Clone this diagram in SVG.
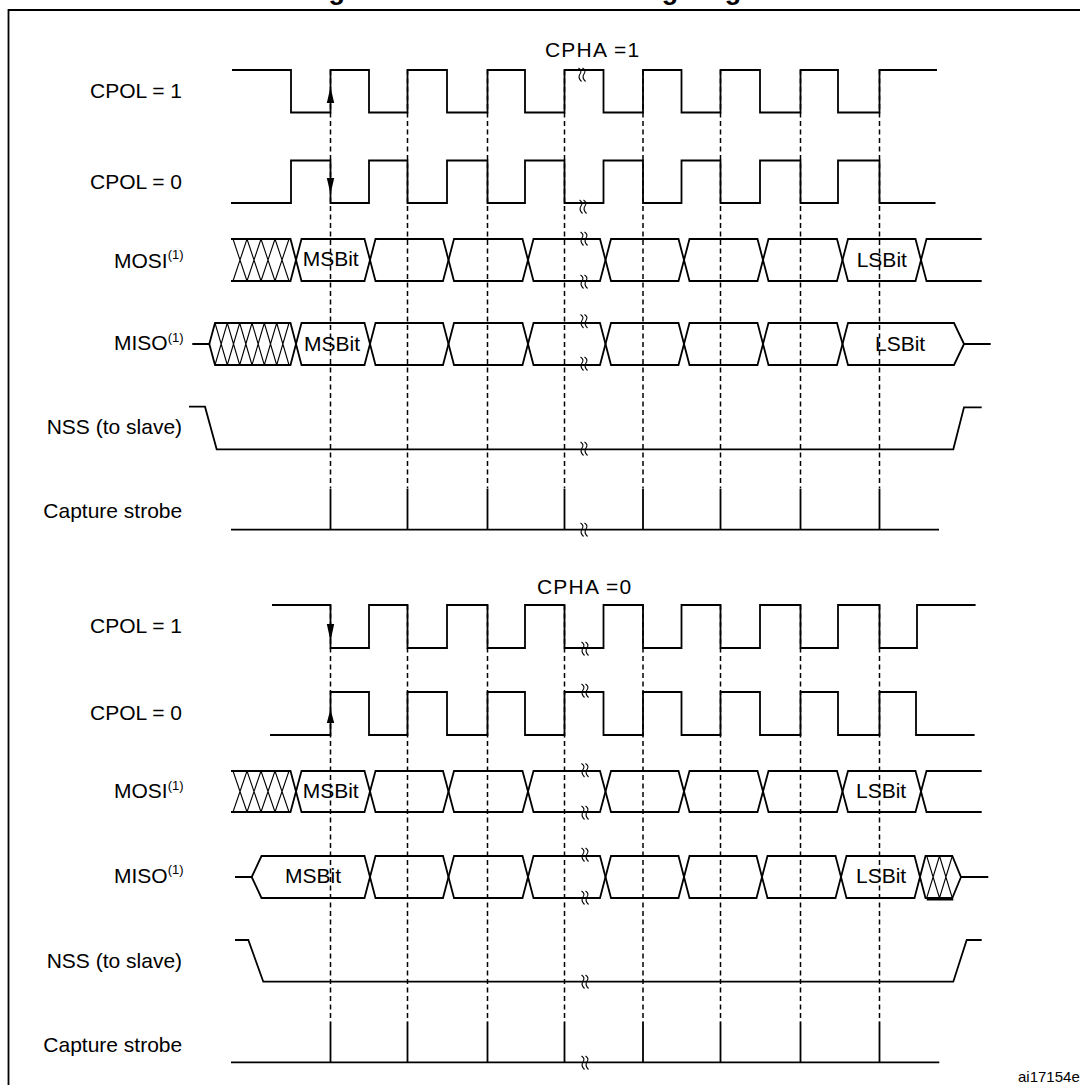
<svg xmlns="http://www.w3.org/2000/svg" xmlns:xlink="http://www.w3.org/1999/xlink" width="1080" height="1085" viewBox="0 0 1080 1085">
<style>
.w{fill:none;stroke:#000;stroke-width:1.8;stroke-linejoin:miter}
.h{fill:none;stroke:#000;stroke-width:1.1}
.d{fill:none;stroke:#000;stroke-width:1.5;stroke-dasharray:5,3.5}
.brk{fill:none;stroke:#000;stroke-width:1.1}
.lbl{font-family:"Liberation Sans",Arial,Helvetica,sans-serif;font-size:21px;fill:#000}
.ttl{font-family:"Liberation Sans",Arial,Helvetica,sans-serif;font-size:27px;font-weight:bold;fill:#000}
.cp{font-family:"Liberation Sans",Arial,Helvetica,sans-serif;font-size:21px;letter-spacing:1.2px;fill:#000}
.arr{fill:#000;stroke:none}
</style>
<defs>
<path id="brk" class="brk" d="M-4.5,-7 q4,2.5 1.5,6 q-2.5,3.5 1.5,7.5 M-0.5,-7 q4,2.5 1.5,6 q-2.5,3.5 1.5,7.5"/>
</defs>
<rect width="1080" height="1085" fill="#fff"/>
<text class="ttl" x="304.6" y="-1.5">Figure 239. Data clock timing diagram</text>
<path class="w" d="M8.5,1085 V10 H1080" stroke-width="2"/>

<g id="connectors">
<path class="d" d="M330.5,70 V488 M407.5,70 V488 M487.5,70 V488 M564.5,70 V488 M643,70 V488 M720.5,70 V488 M800.5,70 V488 M879.5,70 V488"/>
<path class="d" d="M330.5,605 V1022 M407.5,605 V1022 M487.5,605 V1022 M564.5,605 V1022 M643,605 V1022 M720.5,605 V1022 M800.5,605 V1022 M879.5,605 V1022"/>
</g>

<g id="cpha1">
<text class="cp" x="545" y="57">CPHA =1</text>
<g id="t_cpol1">
<text class="lbl" x="90" y="98">CPOL = 1</text>
<path class="w" d="M232,70 H291 V112.5 H330.5 V70 H369 V112.5 H407.5 V70 H447 V112.5 H487.5 V70 H525 V112.5 H564.5 V70 H603.5 V112.5 H643 V70 H681.5 V112.5 H720.5 V70 H760 V112.5 H800.5 V70 H838 V112.5 H879.5 V70 H937"/>
<polygon class="arr" points="330.5,87 326.8,103 334.2,103"/>
<use xlink:href="#brk" x="583" y="75"/>
</g>
<g id="t_cpol0">
<text class="lbl" x="90" y="188.7">CPOL = 0</text>
<path class="w" d="M231,203 H291 V160.5 H330.5 V203 H369 V160.5 H407.5 V203 H447 V160.5 H487.5 V203 H525 V160.5 H564.5 V203 H603.5 V160.5 H643 V203 H681.5 V160.5 H720.5 V203 H760 V160.5 H800.5 V203 H838 V160.5 H879.5 V203 H935.5"/>
<polygon class="arr" points="330.5,194 326.8,178 334.2,178"/>
<use xlink:href="#brk" x="584" y="207"/>
</g>
<g id="t_mosi">
<text class="lbl" x="114" y="267.7">MOSI<tspan font-size="13" dy="-8.5">(1)</tspan></text>
<path class="w" d="M231,239 H290.5 L301.5,281 H364.5 L375.5,239 H443 L454,281 H522.5 L533.5,239 H600 L611,281 H678.5 L689.5,239 H757.5 L768.5,281 H837 L848,239 H915.5 L926.5,281 H981.7"/>
<path class="w" d="M231,281 H290.5 L301.5,239 H364.5 L375.5,281 H443 L454,239 H522.5 L533.5,281 H600 L611,239 H678.5 L689.5,281 H757.5 L768.5,239 H837 L848,281 H915.5 L926.5,239 H981.7"/>
<path class="h" d="M233,239 L247,281 M247,239 L233,281 M247,239 L261,281 M261,239 L247,281 M261,239 L275,281 M275,239 L261,281 M275,239 L289,281 M289,239 L275,281"/>
<text class="lbl" x="302.7" y="265.7">MSBit</text>
<text class="lbl" x="856.7" y="266.7">LSBit</text>
<use xlink:href="#brk" x="585" y="239"/>
<use xlink:href="#brk" x="585" y="282"/>
</g>
<g id="t_miso">
<text class="lbl" x="114" y="350">MISO<tspan font-size="13" dy="-8.5">(1)</tspan></text>
<path class="w" d="M209.3,344 L215,323 H290.5 L301.5,365 H364.5 L375.5,323 H443 L454,365 H522.5 L533.5,323 H600 L611,365 H678.5 L689.5,323 H757.5 L768.5,365 H837 L848,323 H954 L964,344"/>
<path class="w" d="M192.3,344 H209.3 L215,365 H290.5 L301.5,323 H364.5 L375.5,365 H443 L454,323 H522.5 L533.5,365 H600 L611,323 H678.5 L689.5,365 H757.5 L768.5,323 H837 L848,365 H954 L964,344 H990.7"/>
<path class="h" d="M215,323 L227.3,365 M227.3,323 L215,365 M227.3,323 L239.7,365 M239.7,323 L227.3,365 M239.7,323 L252,365 M252,323 L239.7,365 M252,323 L264.3,365 M264.3,323 L252,365 M264.3,323 L276.7,365 M276.7,323 L264.3,365 M276.7,323 L289,365 M289,323 L276.7,365"/>
<text class="lbl" x="304" y="350.7">MSBit</text>
<text class="lbl" x="875" y="350.7">LSBit</text>
<use xlink:href="#brk" x="585" y="321.5"/>
<use xlink:href="#brk" x="585" y="364"/>
</g>
<g id="t_nss">
<text class="lbl" x="46.7" y="434.3">NSS (to slave)</text>
<path class="w" d="M189,406.7 H205 L216.7,449.3 H953.3 L964,407.3 H981.7"/>
<use xlink:href="#brk" x="585" y="449"/>
</g>
<g id="t_strobe">
<text class="lbl" x="43.3" y="517.7">Capture strobe</text>
<path class="w" d="M231,529.7 H939 M330.5,488.5 V529.7 M407.5,488.5 V529.7 M487.5,488.5 V529.7 M564.5,488.5 V529.7 M643,488.5 V529.7 M720.5,488.5 V529.7 M800.5,488.5 V529.7 M879.5,488.5 V529.7"/>
<use xlink:href="#brk" x="585" y="530"/>
</g>
</g>

<g id="cpha0">
<text class="cp" x="537" y="594.4">CPHA =0</text>
<g id="b_cpol1">
<text class="lbl" x="90" y="633.3">CPOL = 1</text>
<path class="w" d="M272,605 H330.5 V648 H369 V605 H407.5 V648 H447 V605 H487.5 V648 H525 V605 H564.5 V648 H603.5 V605 H643 V648 H681.5 V605 H720.5 V648 H760 V605 H800.5 V648 H838 V605 H879.5 V648 H917 V605 H975.6"/>
<polygon class="arr" points="330.5,641 326.8,624 334.2,624"/>
<use xlink:href="#brk" x="586" y="649"/>
</g>
<g id="b_cpol0">
<text class="lbl" x="90" y="720">CPOL = 0</text>
<path class="w" d="M270,735 H330.5 V692 H369 V735 H407.5 V692 H447 V735 H487.5 V692 H525 V735 H564.5 V692 H603.5 V735 H643 V692 H681.5 V735 H720.5 V692 H760 V735 H800.5 V692 H838 V735 H879.5 V692 H916 V735 H974.6"/>
<polygon class="arr" points="330.5,709 326.8,723 334.2,723"/>
<use xlink:href="#brk" x="586" y="691"/>
</g>
<g id="b_mosi">
<text class="lbl" x="114" y="798.3">MOSI<tspan font-size="13" dy="-8.5">(1)</tspan></text>
<path class="w" d="M231,771 H290.5 L301.5,812 H364.5 L375.5,771 H443 L454,812 H522.5 L533.5,771 H600 L611,812 H678.5 L689.5,771 H757.5 L768.5,812 H837 L848,771 H915.5 L926.5,812 H981.7"/>
<path class="w" d="M231,812 H290.5 L301.5,771 H364.5 L375.5,812 H443 L454,771 H522.5 L533.5,812 H600 L611,771 H678.5 L689.5,812 H757.5 L768.5,771 H837 L848,812 H915.5 L926.5,771 H981.7"/>
<path class="h" d="M233,771 L247,812 M247,771 L233,812 M247,771 L261,812 M261,771 L247,812 M261,771 L275,812 M275,771 L261,812 M275,771 L289,812 M289,771 L275,812"/>
<text class="lbl" x="302.7" y="798.3">MSBit</text>
<text class="lbl" x="856" y="797.7">LSBit</text>
<use xlink:href="#brk" x="586" y="770.5"/>
<use xlink:href="#brk" x="586" y="813"/>
</g>
<g id="b_miso">
<text class="lbl" x="114" y="882.7">MISO<tspan font-size="13" dy="-8.5">(1)</tspan></text>
<path class="w" d="M251.7,877 L261.5,856 H364.5 L375.5,898 H443 L454,856 H522.5 L533.5,898 H600 L611,856 H678.5 L689.5,898 H756.5 L767.5,856 H835.5 L846.5,898 H914.5 L925.5,856 H952.3 L961,877 H988.3"/>
<path class="w" d="M235,877 H251.7 L261.5,898 H364.5 L375.5,856 H443 L454,898 H522.5 L533.5,856 H600 L611,898 H678.5 L689.5,856 H756.5 L767.5,898 H835.5 L846.5,856 H914.5 L925.5,898 H952.3 L961,877"/>
<path class="h" d="M926.7,856 L939.5,898 M939.5,856 L926.7,898 M939.5,856 L952.3,898 M952.3,856 L939.5,898"/>
<path class="w" d="M926.7,899.6 H953.3" stroke-width="3"/>
<text class="lbl" x="285" y="882.7">MSBit</text>
<text class="lbl" x="856" y="883.3">LSBit</text>
<use xlink:href="#brk" x="586" y="855"/>
<use xlink:href="#brk" x="586" y="898"/>
</g>
<g id="b_nss">
<text class="lbl" x="46.7" y="968.3">NSS (to slave)</text>
<path class="w" d="M235,940 H248.3 L263.3,981.7 H953.3 L966.7,940 H981.7"/>
<use xlink:href="#brk" x="586" y="982"/>
</g>
<g id="b_strobe">
<text class="lbl" x="43.3" y="1051.7">Capture strobe</text>
<path class="w" d="M231,1062.3 H939.3 M330.5,1021.7 V1062.3 M407.5,1021.7 V1062.3 M487.5,1021.7 V1062.3 M564.5,1021.7 V1062.3 M643,1021.7 V1062.3 M720.5,1021.7 V1062.3 M800.5,1021.7 V1062.3 M879.5,1021.7 V1062.3"/>
<use xlink:href="#brk" x="586" y="1063"/>
</g>
</g>

<text class="lbl" x="1018" y="1081.7" style="font-size:15px">ai17154e</text>
</svg>
